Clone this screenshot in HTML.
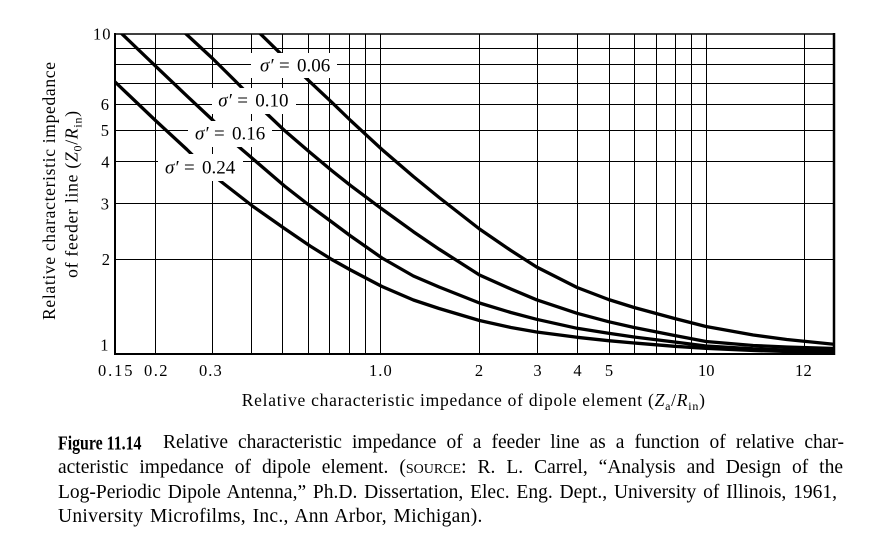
<!DOCTYPE html>
<html>
<head>
<meta charset="utf-8">
<style>
  html, body { margin:0; padding:0; background:#fff; }
  body { width:875px; height:552px; position:relative; overflow:hidden; }
  .cap { position:absolute; font-family:"Liberation Serif", serif; font-size:19.5px; line-height:20px; color:#000; white-space:nowrap; }
  .j { text-align:justify; text-align-last:justify; white-space:normal; }
  .sc { font-variant:small-caps; }
</style>
</head>
<body>
<svg width="875" height="552" viewBox="0 0 875 552" style="position:absolute;left:0;top:0" font-family="Liberation Serif, serif">
  <defs>
    <clipPath id="plot"><rect x="115" y="34" width="720" height="320"/></clipPath>
  </defs>
  <rect x="0" y="0" width="875" height="552" fill="#fff"/>
  <!-- grid -->
  <g stroke="#000" stroke-width="1" fill="none">
    <line x1="155.5" y1="34" x2="155.5" y2="354"/>
    <line x1="212.5" y1="34" x2="212.5" y2="354"/>
    <line x1="251.5" y1="34" x2="251.5" y2="354"/>
    <line x1="282.5" y1="34" x2="282.5" y2="354"/>
    <line x1="308.5" y1="34" x2="308.5" y2="354"/>
    <line x1="329.5" y1="34" x2="329.5" y2="354"/>
    <line x1="349.5" y1="34" x2="349.5" y2="354"/>
    <line x1="365.5" y1="34" x2="365.5" y2="354"/>
    <line x1="380.5" y1="34" x2="380.5" y2="354"/>
    <line x1="479.5" y1="34" x2="479.5" y2="354"/>
    <line x1="537.5" y1="34" x2="537.5" y2="354"/>
    <line x1="577.5" y1="34" x2="577.5" y2="354"/>
    <line x1="609.5" y1="34" x2="609.5" y2="354"/>
    <line x1="634.5" y1="34" x2="634.5" y2="354"/>
    <line x1="656.5" y1="34" x2="656.5" y2="354"/>
    <line x1="675.5" y1="34" x2="675.5" y2="354"/>
    <line x1="691.5" y1="34" x2="691.5" y2="354"/>
    <line x1="706.5" y1="34" x2="706.5" y2="354"/>
    <line x1="804.5" y1="34" x2="804.5" y2="354"/>
    <line x1="115" y1="48.5" x2="834" y2="48.5"/>
    <line x1="115" y1="64.5" x2="834" y2="64.5"/>
    <line x1="115" y1="83.5" x2="834" y2="83.5"/>
    <line x1="115" y1="104.5" x2="834" y2="104.5"/>
    <line x1="115" y1="130.5" x2="834" y2="130.5"/>
    <line x1="115" y1="161.5" x2="834" y2="161.5"/>
    <line x1="115" y1="203.5" x2="834" y2="203.5"/>
    <line x1="115" y1="259.5" x2="834" y2="259.5"/>
  </g>
  <!-- curves -->
  <g clip-path="url(#plot)" stroke="#000" stroke-width="3.3" fill="none" stroke-linejoin="round">
    <polyline points="113,80 155.5,120.5 186.9,149.5 212.6,175 253.1,206.5 284.5,228.5 310.1,246 331.8,259.5 350.6,270 382,286.5 413.4,300 439.1,308.5 479.5,320.5 510.9,327.5 536.6,332 577.1,337.3 608.5,340.7 634.1,343 674.6,346.3 706,348.3 753.2,350.5 786.7,351.5 836,352.5"/>
    <polyline points="120.5,32.5 155.5,66.1 186.9,95.9 212.6,120 236.7,145 253.1,159 284.5,186 310.1,206 331.8,222 350.6,236 382,258 413.4,276 439.1,287 479.5,303 510.9,312.5 536.6,319.3 577.1,328.3 608.5,333.3 634.1,337 674.6,342 706,346 753.2,348.8 786.7,350 836,351"/>
    <polyline points="184.5,32.5 212.6,58.5 234.3,80 253.1,99 265,112 284.5,130.5 310.1,152.5 331.8,170.6 350.6,185.6 382,209 413.4,231.7 439.1,249.2 479.5,275 510.9,289 536.6,299.8 577.1,313.3 608.5,321.7 634.1,327.5 674.6,335.5 706,341.5 753.2,345.5 786.7,347 836,348.5"/>
    <polyline points="258.5,32 284.5,57.4 310.1,81.9 331.8,102.3 350.6,120.5 382,149.5 413.4,176.5 439.1,197.5 479.5,229 510.9,250.5 536.6,267 577.1,287.5 608.5,299.5 634.1,307.5 674.6,318.5 706,326.5 753.2,335 786.7,339.5 836,344.5"/>
  </g>
  <!-- label masks -->
  <g fill="#fff">
    <rect x="251" y="53" width="86" height="25"/>
    <rect x="212" y="88" width="84" height="26"/>
    <rect x="188" y="121" width="84" height="26"/>
    <rect x="158" y="154" width="85" height="27"/>
  </g>
  <!-- frame -->
  <g stroke="#000" fill="none">
    <line x1="115" y1="33" x2="115" y2="355" stroke-width="2"/>
    <line x1="114" y1="354" x2="835" y2="354" stroke-width="2"/>
    <line x1="114" y1="34" x2="835" y2="34" stroke-width="1.6"/>
    <line x1="834" y1="33" x2="834" y2="355" stroke-width="2.5"/>
  </g>
  <!-- curve labels -->
  <g font-size="19" fill="#000">
    <text x="260" y="71.7" font-style="italic">σ′</text>
    <text x="279" y="71.7">=</text>
    <text x="297" y="71.7">0.06</text>

    <text x="218.3" y="106.3" font-style="italic">σ′</text>
    <text x="237.3" y="106.3">=</text>
    <text x="255.3" y="106.3">0.10</text>

    <text x="195" y="139.5" font-style="italic">σ′</text>
    <text x="214" y="139.5">=</text>
    <text x="232" y="139.5">0.16</text>

    <text x="165" y="173.3" font-style="italic">σ′</text>
    <text x="184" y="173.3">=</text>
    <text x="202" y="173.3">0.24</text>
  </g>
  <!-- y tick labels -->
  <g font-size="16.5" fill="#000" text-anchor="end">
    <text x="111.5" y="39.5" letter-spacing="1">10</text>
    <text x="109" y="110">6</text>
    <text x="109" y="136">5</text>
    <text x="109.5" y="167.3">4</text>
    <text x="109" y="209.5">3</text>
    <text x="110" y="265">2</text>
    <text x="108.5" y="350.7">1</text>
  </g>
  <!-- x tick labels -->
  <g font-size="16.5" fill="#000">
    <text x="98" y="376" textLength="34.5" lengthAdjust="spacing">0.15</text>
    <text x="144" y="376" textLength="23.5" lengthAdjust="spacing">0.2</text>
    <text x="199" y="376" textLength="22.7" lengthAdjust="spacing">0.3</text>
    <text x="369" y="376" textLength="22.7" lengthAdjust="spacing">1.0</text>
    <text x="479" y="376" text-anchor="middle">2</text>
    <text x="537.5" y="376" text-anchor="middle">3</text>
    <text x="577.5" y="376" text-anchor="middle">4</text>
    <text x="609" y="376" text-anchor="middle">5</text>
    <text x="698" y="376" textLength="16.5" lengthAdjust="spacing">10</text>
    <text x="795" y="376" textLength="16.7" lengthAdjust="spacing">12</text>
  </g>
  <!-- axis titles -->
  <text x="241.7" y="406" font-size="17.5" letter-spacing="0.75" fill="#000">Relative characteristic impedance of dipole element (<tspan font-style="italic">Z</tspan><tspan font-size="12" dy="4">a</tspan><tspan dy="-4">/</tspan><tspan font-style="italic">R</tspan><tspan font-size="12" dy="4">in</tspan><tspan dy="-4">)</tspan></text>
  <text transform="translate(55,191) rotate(-90)" text-anchor="middle" font-size="17.5" textLength="258" lengthAdjust="spacing" fill="#000">Relative characteristic impedance</text>
  <text transform="translate(77.5,194) rotate(-90)" text-anchor="middle" font-size="17.5" letter-spacing="0.77" fill="#000">of feeder line (<tspan font-style="italic">Z</tspan><tspan font-size="12" dy="4">0</tspan><tspan dy="-4">/</tspan><tspan font-style="italic">R</tspan><tspan font-size="12" dy="4">in</tspan><tspan dy="-4">)</tspan></text>
  <!-- caption bold label -->
  <text x="58" y="449.3" font-size="20" font-weight="bold" textLength="83.5" lengthAdjust="spacingAndGlyphs" fill="#000">Figure 11.14</text>
</svg>

<div class="cap j" style="left:163px; top:432.7px; width:681px;">Relative characteristic impedance of a feeder line as a function of relative char-</div>
<div class="cap j" style="left:58px; top:458.4px; width:785px;">acteristic impedance of dipole element. (<span class="sc">source:</span> R. L. Carrel, “Analysis and Design of the</div>
<div class="cap j" style="left:58px; top:482.7px; width:779px;">Log-Periodic Dipole Antenna,” Ph.D. Dissertation, Elec. Eng. Dept., University of Illinois, 1961,</div>
<div class="cap" style="left:58px; top:506.7px; word-spacing:1.5px; letter-spacing:0.3px;">University Microfilms, Inc., Ann Arbor, Michigan).</div>
</body>
</html>
